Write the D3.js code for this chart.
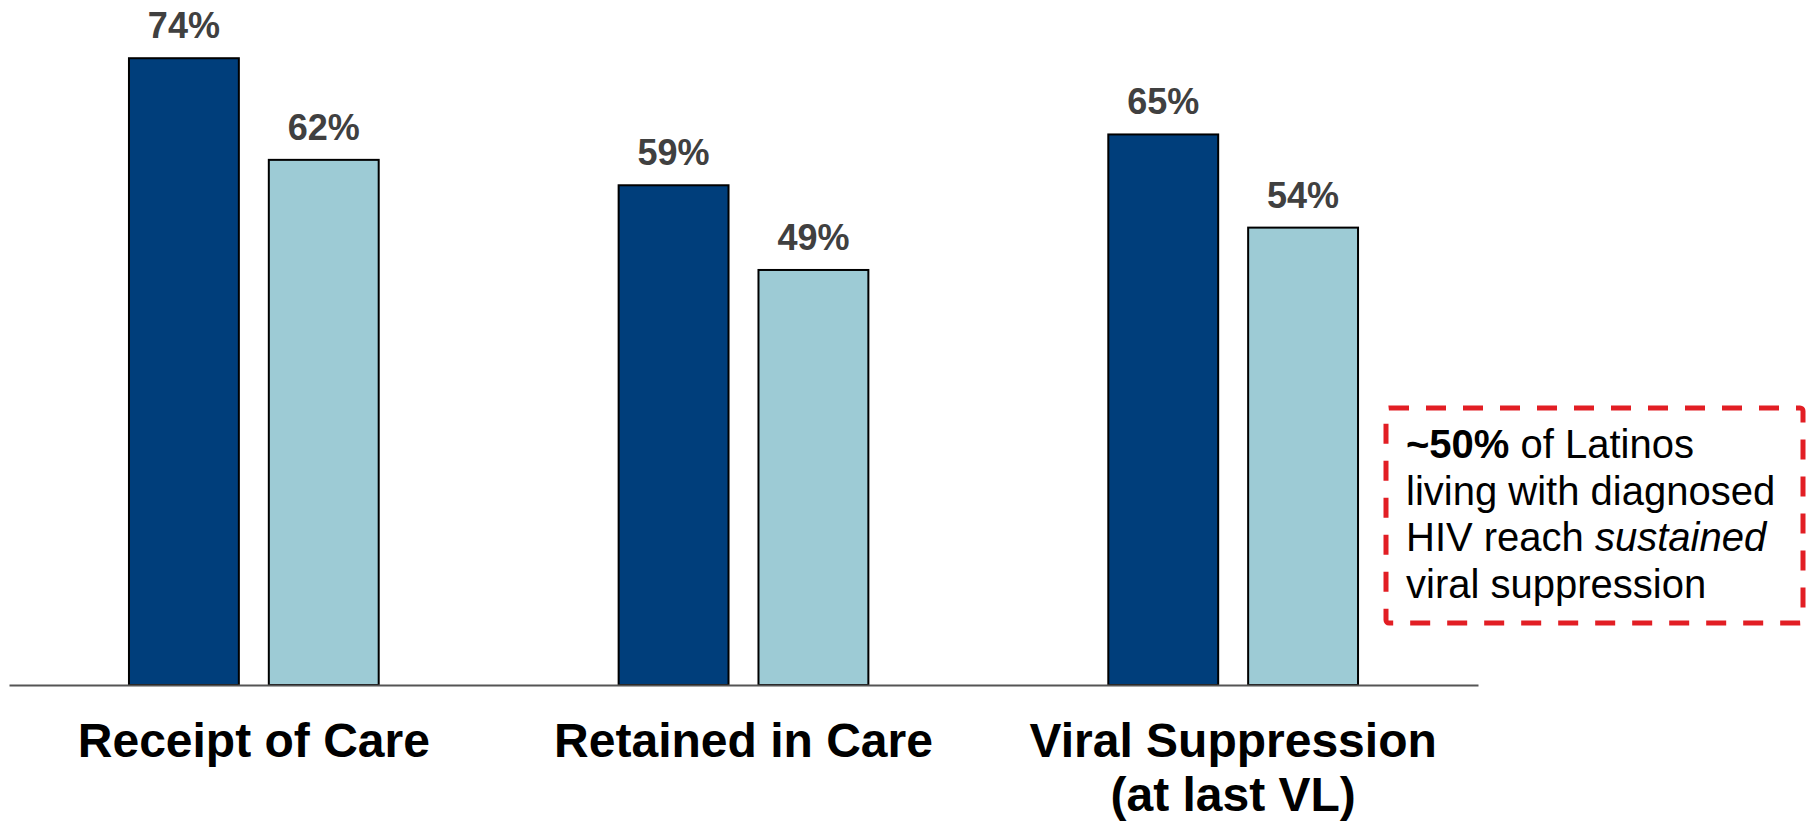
<!DOCTYPE html>
<html>
<head>
<meta charset="utf-8">
<script src="https://cdn.jsdelivr.net/npm/d3@7"></script>
<style>
  body { margin: 0; background: #fff; }
  svg { display: block; font-family: "Liberation Sans", Arial, sans-serif; }
</style>
</head>
<body>
<svg id="chart" width="1810" height="822"></svg>
<script>
// categories (lines of each x label) and the two series
var categories = ["Receipt of Care", "Retained in Care", "Viral Suppression"];
var categoryLines = [["Receipt of Care"], ["Retained in Care"], ["Viral Suppression", "(at last VL)"]];
var seriesNames = ["dark", "light"];
var darkValues = [74, 59, 65];
var lightValues = [62, 49, 54];
var seriesColors = ["#003e7b", "#9dcbd5"];

// callout text, each line is a list of [text, weight, style]
var noteLines = [
    [["~50%", "bold", "normal"], [" of Latinos", "normal", "normal"]],
    [["living with diagnosed", "normal", "normal"]],
    [["HIV reach ", "normal", "normal"], ["sustained", "normal", "italic"]],
    [["viral suppression", "normal", "normal"]]
];

var svg = d3.select("#chart");

let baseY = 685;
let x0 = d3.scaleBand()
    .domain(categories)
    .range([9, 1478])
    .paddingInner(0.49)
    .paddingOuter(0.245);

let x1 = d3.scaleBand()
    .domain(seriesNames)
    .range([0, x0.bandwidth()])
    .paddingInner(30 / 140);

let y = d3.scaleLinear()
    .domain([0, 100])
    .range([baseY, baseY - 847]);

let color = d3.scaleOrdinal().domain(seriesNames).range(seriesColors);

let rows = categories.map(function (c, i) {
    return { cat: c, values: [
        { key: "dark", v: darkValues[i] },
        { key: "light", v: lightValues[i] }
    ]};
});

// bars
let groups = svg.selectAll(".grp")
    .data(rows)
    .enter().append("g")
    .attr("class", "grp")
    .attr("transform", function (d) { return "translate(" + x0(d.cat) + ",0)"; });

groups.selectAll("rect")
    .data(function (d) { return d.values; })
    .enter().append("rect")
    .attr("x", function (d) { return x1(d.key); })
    .attr("y", function (d) { return y(d.v); })
    .attr("width", x1.bandwidth())
    .attr("height", function (d) { return baseY - y(d.v); })
    .style("fill", function (d) { return color(d.key); })
    .style("stroke", "#000")
    .style("stroke-width", 2);

// value labels
groups.selectAll(".val")
    .data(function (d) { return d.values; })
    .enter().append("text")
    .attr("class", "val")
    .attr("x", function (d) { return x1(d.key) + x1.bandwidth() / 2; })
    .attr("y", function (d) { return y(d.v) - 20; })
    .attr("text-anchor", "middle")
    .attr("font-size", "36px")
    .attr("font-weight", "bold")
    .style("fill", "#404040")
    .text(function (d) { return d.v + "%"; });

// baseline axis
let xAxis = svg.append("g")
    .attr("transform", "translate(0," + baseY + ")")
    .call(d3.axisBottom(x0).tickSize(0).tickFormat(""));
xAxis.select(".domain")
    .attr("stroke", "#555")
    .attr("stroke-width", 2);

// category labels
svg.selectAll(".cat")
    .data(categories)
    .enter().append("text")
    .attr("class", "cat")
    .attr("text-anchor", "middle")
    .attr("font-size", "48px")
    .attr("font-weight", "bold")
    .style("fill", "#000")
    .each(function (d, i) {
        let cx = x0(d) + x0.bandwidth() / 2;
        d3.select(this).selectAll("tspan")
            .data(categoryLines[i])
            .enter().append("tspan")
            .attr("x", cx)
            .attr("y", function (t, j) { return 757 + j * 54; })
            .text(function (t) { return t; });
    });

// dashed callout box
svg.append("rect")
    .attr("x", 1386)
    .attr("y", 408)
    .attr("width", 417)
    .attr("height", 215)
    .attr("rx", 3)
    .style("fill", "none")
    .style("stroke", "#e21e24")
    .style("stroke-width", 5)
    .style("stroke-dasharray", "20,17");

let note = svg.append("text")
    .attr("font-size", "40px")
    .style("fill", "#000");

noteLines.forEach(function (line, i) {
    line.forEach(function (part, j) {
        let t = note.append("tspan")
            .attr("font-weight", part[1])
            .attr("font-style", part[2])
            .text(part[0]);
        if (j === 0) t.attr("x", 1406).attr("y", 458 + i * 46.7);
    });
});
</script>
</body>
</html>
